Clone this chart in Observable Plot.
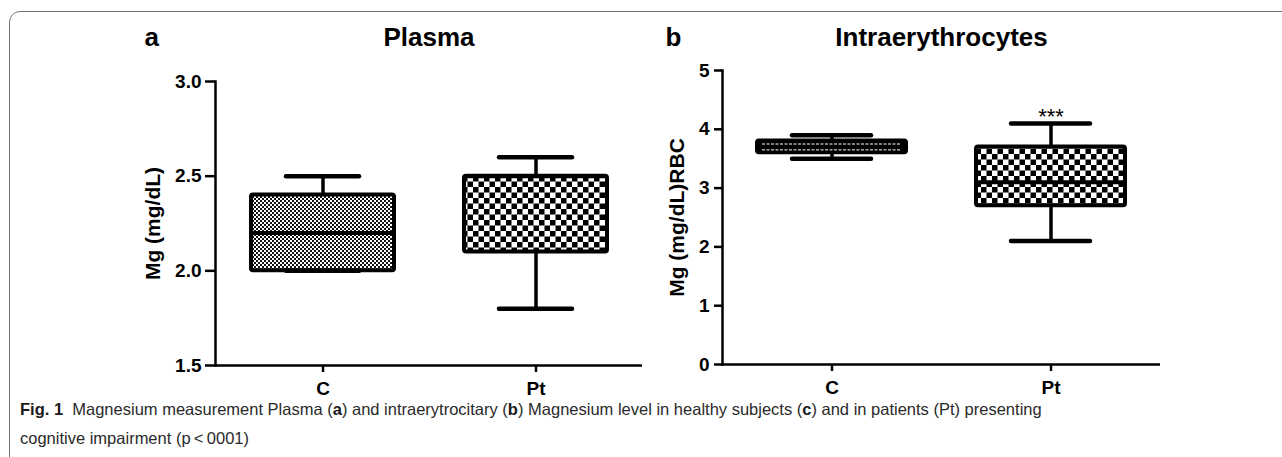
<!DOCTYPE html>
<html>
<head>
<meta charset="utf-8">
<script src="https://cdn.jsdelivr.net/npm/d3@7"></script>
<script src="https://cdn.jsdelivr.net/npm/@observablehq/plot@0.6"></script>
<style>
  html, body { margin: 0; padding: 0; background: #fff; }
  #wrap { position: relative; width: 1282px; height: 457px; overflow: hidden; font-family: "Liberation Sans", Arial, sans-serif; }
  #border { position: absolute; left: 9px; top: 11px; right: -20px; bottom: -20px; border: 1.5px solid #777; border-radius: 11px; }
  .panel { position: absolute; top: 0; }
  .cap { position: absolute; left: 20px; font-size: 16.5px; line-height: 18px; color: #2a2a2a; font-family: "Liberation Sans", Arial, sans-serif; white-space: nowrap; }
  .cap b { color: #1a1a1a; }
</style>
</head>
<body>
<div id="wrap">
  <div id="border"></div>
  <div id="panelA" class="panel" style="left:0px"></div>
  <div id="panelB" class="panel" style="left:640px"></div>
  <div class="cap" style="top:400px"><b>Fig. 1</b>&nbsp; Magnesium measurement Plasma (<b>a</b>) and intraerytrocitary (<b>b</b>) Magnesium level in healthy subjects (<b>c</b>) and in patients (Pt) presenting</div>
  <div class="cap" style="top:429px">cognitive impairment (p&thinsp;&lt;&thinsp;0001)</div>
</div>
<script>
// ---- data ----
const categories = ["C", "Pt"];
const plasmaMin    = [2.0, 1.8];
const plasmaQ1     = [2.0, 2.1];
const plasmaMedian = [2.2, 2.5];
const plasmaQ3     = [2.4, 2.5];
const plasmaMax    = [2.5, 2.6];
const plasmaTicks  = [1.5, 2.0, 2.5, 3.0];

const rbcMin    = [3.5, 2.1];
const rbcQ1     = [3.6, 2.7];
const rbcMedian = [3.7, 3.1];
const rbcQ3     = [3.8, 3.7];
const rbcMax    = [3.9, 4.1];
const rbcTicks  = [0, 1, 2, 3, 4, 5];
const rbcSignificance = ["", "***"];

const font = "Liberation Sans, Arial, sans-serif";

function rows(mins, q1s, meds, q3s, maxs, sig) {
  return categories.map((c, i) => ({cat: c, min: mins[i], q1: q1s[i], med: meds[i], q3: q3s[i], max: maxs[i], sig: sig ? sig[i] : ""}));
}

function addPatterns(svg, prefix) {
  const defs = d3.select(svg).insert("defs", ":first-child");
  const p1 = defs.append("pattern").attr("id", prefix + "fine").attr("patternUnits", "userSpaceOnUse").attr("width", 4).attr("height", 4);
  p1.append("rect").attr("width", 4).attr("height", 4).attr("fill", "#fff");
  p1.append("rect").attr("width", 2).attr("height", 2).attr("fill", "#111");
  p1.append("rect").attr("x", 2).attr("y", 2).attr("width", 2).attr("height", 2).attr("fill", "#111");
  const p2 = defs.append("pattern").attr("id", prefix + "coarse").attr("patternUnits", "userSpaceOnUse").attr("width", 11).attr("height", 11);
  p2.append("rect").attr("width", 11).attr("height", 11).attr("fill", "#fff");
  p2.append("rect").attr("width", 5.5).attr("height", 5.5).attr("fill", "#000");
  p2.append("rect").attr("x", 5.5).attr("y", 5.5).attr("width", 5.5).attr("height", 5.5).attr("fill", "#000");
}

function boxMarks(data, fills, capInset) {
  const marks = [];
  categories.forEach((c, i) => {
    marks.push(Plot.barY(data.filter(d => d.cat === c), {x: "cat", y1: "q1", y2: "q3", insetLeft: 35, insetRight: 35, rx: 2, fill: fills[i], stroke: "#000", strokeWidth: 4}));
  });
  marks.push(Plot.tickY(data, {x: "cat", y: "med", insetLeft: 35, insetRight: 35, stroke: "#000", strokeWidth: 4}));
  marks.push(Plot.ruleX(data, {x: "cat", y1: "q3", y2: "max", stroke: "#000", strokeWidth: 3.5}));
  marks.push(Plot.ruleX(data, {x: "cat", y1: "min", y2: "q1", stroke: "#000", strokeWidth: 3.5}));
  marks.push(Plot.tickY(data, {x: "cat", y: "max", insetLeft: capInset, insetRight: capInset, stroke: "#000", strokeWidth: 4.5, strokeLinecap: "round"}));
  marks.push(Plot.tickY(data, {x: "cat", y: "min", insetLeft: capInset, insetRight: capInset, stroke: "#000", strokeWidth: 4.5, strokeLinecap: "round"}));
  return marks;
}

// ---- panel a ----
const plasma = rows(plasmaMin, plasmaQ1, plasmaMedian, plasmaQ3, plasmaMax);
const plotA = Plot.plot({
  width: 660, height: 410,
  marginLeft: 215, marginRight: 18, marginTop: 81, marginBottom: 45,
  style: {background: "none", overflow: "visible", fontFamily: font, color: "#000"},
  x: {type: "band", domain: categories, padding: 0},
  y: {domain: [1.5, 3.0]},
  marks: [
    ...boxMarks(plasma, ["url(#afine)", "url(#acoarse)"], 70),
    Plot.ruleY([1.5], {stroke: "#000", strokeWidth: 2.5}),
    Plot.frame({anchor: "left", stroke: "#000", strokeWidth: 2.5}),
    Plot.axisY({ticks: plasmaTicks, tickFormat: d3.format(".1f"), tickSize: 10, tickPadding: 4, strokeWidth: 2.5, fontSize: 19, fontWeight: "bold", label: null}),
    Plot.axisX({tickSize: 7, tickPadding: 9, strokeWidth: 2.5, fontSize: 19, fontWeight: "bold", label: null}),
    Plot.text(["Mg (mg/dL)"], {frameAnchor: "left", dx: -62, rotate: -90, textAnchor: "middle", lineAnchor: "middle", fontSize: 21, fontWeight: "bold", fill: "#000"}),
    Plot.text(["Plasma"], {frameAnchor: "top", dy: -54, fontSize: 26, fontWeight: "bold", fill: "#000"}),
    Plot.text(["a"], {frameAnchor: "top-left", dx: -71, dy: -54, textAnchor: "start", fontSize: 26, fontWeight: "bold", fill: "#000"})
  ]
});
addPatterns(plotA, "a");
document.getElementById("panelA").appendChild(plotA);

// ---- panel b ----
const rbc = rows(rbcMin, rbcQ1, rbcMedian, rbcQ3, rbcMax, rbcSignificance);
const rbcC = rbc.filter(d => d.cat === "C").map(d => ({cat: d.cat, lo: (d.q1 + d.med) / 2, hi: (d.med + d.q3) / 2}));
const plotB = Plot.plot({
  width: 642, height: 410,
  marginLeft: 82, marginRight: 122, marginTop: 70, marginBottom: 46,
  style: {background: "none", overflow: "visible", fontFamily: font, color: "#000"},
  x: {type: "band", domain: categories, padding: 0},
  y: {domain: [0, 5]},
  marks: [
    ...boxMarks(rbc, ["#000", "url(#bcoarse)"], 70),
    Plot.tickY(rbcC, {x: "cat", y: "lo", insetLeft: 40, insetRight: 40, stroke: "#fff", strokeWidth: 1, strokeDasharray: "3,1.5"}),
    Plot.tickY(rbcC, {x: "cat", y: "hi", insetLeft: 40, insetRight: 40, stroke: "#fff", strokeWidth: 1, strokeDasharray: "3,1.5"}),
    Plot.text(rbc, {x: "cat", y: "max", text: "sig", dy: 1, lineAnchor: "bottom", fontSize: 22, fill: "#000"}),
    Plot.ruleY([0], {stroke: "#000", strokeWidth: 2.5}),
    Plot.frame({anchor: "left", stroke: "#000", strokeWidth: 2.5}),
    Plot.axisY({ticks: rbcTicks, tickFormat: d3.format("d"), tickSize: 8, tickPadding: 5, strokeWidth: 2.5, fontSize: 19, fontWeight: "bold", label: null}),
    Plot.axisX({tickSize: 7, tickPadding: 9, strokeWidth: 2.5, fontSize: 19, fontWeight: "bold", label: null}),
    Plot.text(["Mg (mg/dL)RBC"], {frameAnchor: "left", dx: -45, rotate: -90, textAnchor: "middle", lineAnchor: "middle", fontSize: 21, fontWeight: "bold", fill: "#000"}),
    Plot.text(["Intraerythrocytes"], {frameAnchor: "top", dy: -43, fontSize: 26, fontWeight: "bold", fill: "#000"}),
    Plot.text(["b"], {frameAnchor: "top-left", dx: -57, dy: -43, textAnchor: "start", fontSize: 26, fontWeight: "bold", fill: "#000"})
  ]
});
addPatterns(plotB, "b");
document.getElementById("panelB").appendChild(plotB);
</script>
</body>
</html>
